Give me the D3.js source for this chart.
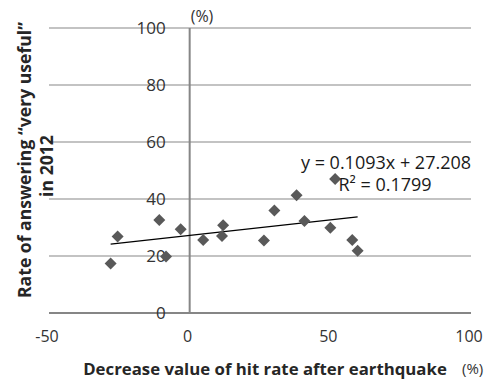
<!DOCTYPE html>
<html>
<head>
<meta charset="utf-8">
<script src="https://cdn.jsdelivr.net/npm/d3@7"></script>
<style>
  body { margin: 0; background: #fff; }
  text { font-family: "Open Sans", "DejaVu Sans", sans-serif; }
</style>
</head>
<body>
<div id="chart"></div>
<script>
// decrease of hit rate after earthquake (%) vs rate of answering "very useful" in 2012 (%)
var hitDecrease = [-28.1, -25.6, -10.8, -8.4, -3.2, 4.8, 11.9, 11.5, 26.4, 30.1, 38.0, 40.8, 51.7, 50.0, 57.8, 59.7];
var usefulRate  = [17.4, 26.8, 32.6, 19.8, 29.4, 25.6, 30.8, 27.0, 25.4, 36.0, 41.3, 32.3, 47.0, 29.9, 25.6, 21.8];
var xTicks = [-50, 0, 50, 100];
var yTicks = [0, 20, 40, 60, 80, 100];
var slope = 0.1093, intercept = 27.208, rSquared = 0.1799;

var W = 487, H = 380;
var margin = { top: 28, right: 16, bottom: 67, left: 49 };

var svg = d3.select('#chart').append('svg')
  .attr('width', W)
  .attr('height', H);

var x = d3.scaleLinear().domain([-50, 100]).range([margin.left, W - margin.right]);
var y = d3.scaleLinear().domain([0, 100]).range([H - margin.bottom, margin.top]);

// horizontal gridlines
svg.append('g')
  .selectAll('line')
  .data(yTicks.filter(function(d) { return d > 0; }))
  .enter().append('line')
  .attr('x1', x(-50)).attr('x2', x(100))
  .attr('y1', function(d) { return y(d); })
  .attr('y2', function(d) { return y(d); })
  .attr('stroke', '#888')
  .attr('stroke-width', 1.2);

// axes lines
svg.append('line')
  .attr('x1', x(-50)).attr('x2', x(100))
  .attr('y1', y(0)).attr('y2', y(0))
  .attr('stroke', '#868686').attr('stroke-width', 2);
svg.append('line')
  .attr('x1', x(0)).attr('x2', x(0))
  .attr('y1', y(100)).attr('y2', y(0))
  .attr('stroke', '#868686').attr('stroke-width', 2);

// y tick labels
svg.append('g')
  .selectAll('text')
  .data(yTicks)
  .enter().append('text')
  .attr('x', x(0) - 24)
  .attr('y', function(d) { return y(d); })
  .attr('dy', '0.36em')
  .attr('text-anchor', 'end')
  .attr('font-size', 17)
  .attr('fill', '#333')
  .text(function(d) { return d; });

// x tick labels
svg.append('g')
  .selectAll('text')
  .data(xTicks)
  .enter().append('text')
  .attr('x', function(d) { return x(d) - 2; })
  .attr('y', 342)
  .attr('text-anchor', 'middle')
  .attr('font-size', 16)
  .attr('fill', '#333')
  .text(function(d) { return d; });

// unit labels
svg.append('text')
  .attr('x', x(0) + 1).attr('y', 22)
  .attr('font-size', 16).attr('fill', '#333')
  .text('(%)');
svg.append('text')
  .attr('x', 462).attr('y', 374)
  .attr('font-size', 15).attr('fill', '#333')
  .text('(%)');

// axis titles
svg.append('text')
  .attr('x', 265).attr('y', 375)
  .attr('text-anchor', 'middle')
  .attr('font-size', 16.8).attr('font-weight', 'bold').attr('fill', '#262626')
  .text('Decrease value of hit rate after earthquake');

var yTitle = svg.append('text')
  .attr('transform', 'translate(0,160) rotate(-90)')
  .attr('text-anchor', 'middle')
  .attr('font-size', 17.6).attr('font-weight', 'bold').attr('fill', '#262626');
yTitle.append('tspan').attr('x', 0).attr('y', 31).text('Rate of answering \u201cvery useful\u201d');
yTitle.append('tspan').attr('x', -6).attr('y', 53).text('in 2012');

// trendline
var xExt = d3.extent(hitDecrease);
svg.append('line')
  .attr('x1', x(xExt[0])).attr('y1', y(slope * xExt[0] + intercept))
  .attr('x2', x(xExt[1])).attr('y2', y(slope * xExt[1] + intercept))
  .attr('stroke', '#000').attr('stroke-width', 1.3);

// points
var diamond = d3.symbol().type(d3.symbolSquare).size(72);
svg.append('g')
  .selectAll('path')
  .data(hitDecrease)
  .enter().append('path')
  .attr('d', diamond)
  .attr('transform', function(d, i) {
    return 'translate(' + x(d) + ',' + y(usefulRate[i]) + ') rotate(45)';
  })
  .attr('fill', '#595959');

// equation label
svg.append('text')
  .attr('x', 386).attr('y', 169)
  .attr('text-anchor', 'middle')
  .attr('font-size', 18).attr('fill', '#1a1a1a')
  .text('y = ' + slope + 'x + ' + intercept);
svg.append('text')
  .attr('x', 385).attr('y', 191)
  .attr('text-anchor', 'middle')
  .attr('font-size', 18).attr('fill', '#1a1a1a')
  .text('R\u00b2 = ' + rSquared);
</script>
</body>
</html>
